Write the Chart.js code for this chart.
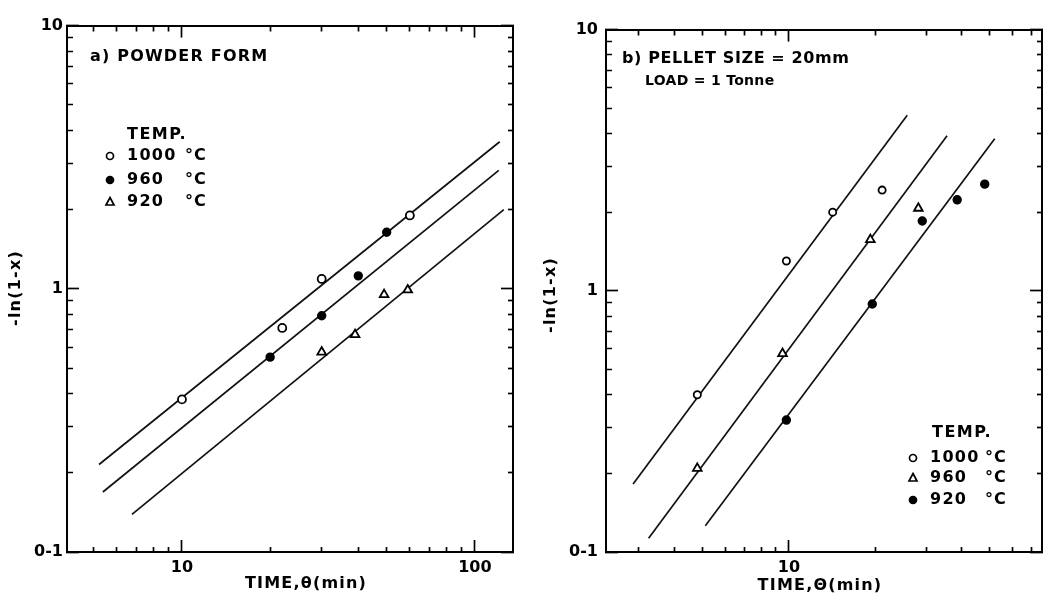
<!DOCTYPE html>
<html>
<head>
<meta charset="utf-8">
<title>-ln(1-x) vs time</title>
<script src="https://cdn.jsdelivr.net/npm/chart.js@4.4.0/dist/chart.umd.min.js"></script>
<style>
  body { margin: 0; background: #fff; }
  #wrap { position: relative; width: 1050px; height: 598px; overflow: hidden; }
  canvas { position: absolute; top: 0; }
  #left { left: 0; }
  #right { left: 525px; }
</style>
</head>
<body>
<div id="wrap">
  <canvas id="left" width="525" height="598"></canvas>
  <canvas id="right" width="525" height="598"></canvas>
</div>
<script>
var FONT = '"DejaVu Sans", sans-serif';

// a) powder form - measured points, time (min) vs -ln(1-x)
var timeA1000 = [10, 22, 30, 60];
var lnA1000   = [0.38, 0.71, 1.09, 1.90];
var timeA960  = [20, 30, 40, 50];
var lnA960    = [0.55, 0.79, 1.12, 1.64];
var timeA920  = [30, 39, 49, 59];
var lnA920    = [0.575, 0.67, 0.95, 0.99];
// fitted lines (end points)
var fitTimeA1000 = [5.21, 121.6];
var fitLnA1000   = [0.215, 3.62];
var fitTimeA960  = [5.37, 120.7];
var fitLnA960    = [0.169, 2.82];
var fitTimeA920  = [6.75, 125.6];
var fitLnA920    = [0.139, 2.0];

// b) pellet size 20mm, load 1 tonne
var timeB1000 = [4.8, 9.8, 14.2, 21.1];
var lnB1000   = [0.40, 1.30, 2.0, 2.43];
var timeB960  = [4.8, 9.5, 19.2, 28.2];
var lnB960    = [0.209, 0.575, 1.57, 2.07];
var timeB920  = [9.8, 19.5, 29.1, 38.5, 48];
var lnB920    = [0.32, 0.89, 1.85, 2.23, 2.56];
var fitTimeB1000 = [2.87, 25.8];
var fitLnB1000   = [0.182, 4.70];
var fitTimeB960  = [3.25, 35.5];
var fitLnB960    = [0.113, 3.92];
var fitTimeB920  = [5.12, 52.0];
var fitLnB920    = [0.126, 3.82];

// ticks
var ticksXA = [5, 6, 7, 8, 9, 10, 20, 30, 40, 50, 60, 70, 80, 90, 100];
var ticksXB = [3, 4, 5, 6, 7, 8, 9, 10, 20, 30, 40, 50, 60, 70];
var ticksY  = [0.1, 0.2, 0.3, 0.4, 0.5, 0.6, 0.7, 0.8, 0.9, 1, 2, 3, 4, 5, 6, 7, 8, 9, 10];
var labelsX = { '10': '10', '100': '100' };
var labelsY = { '0.1': '0-1', '1': '1', '10': '10' };

function pts(xs, ys) {
  return xs.map(function(x, i){ return {x: x, y: ys[i]}; });
}

function markSet(label, xs, ys, style, filled, r) {
  return {
    label: label,
    data: pts(xs, ys),
    pointStyle: style,
    pointRadius: r,
    pointBorderWidth: 1.8,
    borderColor: '#000',
    backgroundColor: filled ? '#000' : '#fff',
    showLine: false
  };
}

function fitSet(xs, ys) {
  return {
    data: pts(xs, ys),
    showLine: true,
    borderColor: '#111',
    borderWidth: 1.7,
    pointRadius: 0,
    fill: false
  };
}

function logAxis(pos, min, max, list, labels, size, pad) {
  var horiz = pos === 'top' || pos === 'bottom';
  var inner = pos === 'left' || pos === 'top';
  return {
    type: 'logarithmic',
    position: pos,
    min: min,
    max: max,
    afterBuildTicks: function(s) {
      s.ticks = list.map(function(v){
        var l = Math.log10(v);
        return {value: v, major: Math.abs(l - Math.round(l)) < 1e-9};
      });
    },
    afterFit: function(s) {
      if (horiz) s.height = size; else s.width = size;
    },
    border: { display: true, color: '#000', width: 2 },
    grid: {
      drawOnChartArea: false,
      drawTicks: true,
      tickLength: -12,
      tickColor: '#000',
      tickWidth: 1.7,
      tickBorderDash: function(c) {
        if (c.tick && c.tick.major) return [];
        return inner ? [0, 6, 6, 100] : [6, 100];
      }
    },
    ticks: {
      display: !!labels,
      autoSkip: false,
      maxRotation: 0,
      padding: pad || 0,
      color: '#000',
      font: { family: FONT, size: 16, weight: 'bold' },
      callback: function(v) { return labels ? (labels[String(v)] || '') : ''; }
    }
  };
}

var notes = {
  id: 'notes',
  afterDraw: function(chart, args, opts) {
    var ctx = chart.ctx;
    (opts.items || []).forEach(function(it){
      ctx.save();
      ctx.font = 'bold ' + (it.size || 16) + 'px ' + FONT;
      ctx.fillStyle = '#000';
      ctx.textAlign = it.align || 'left';
      ctx.textBaseline = 'middle';
      if ('letterSpacing' in ctx) ctx.letterSpacing = (it.sp || 0) + 'px';
      ctx.translate(it.x, it.y);
      if (it.rot) ctx.rotate(it.rot);
      ctx.fillText(it.text, 0, 0);
      ctx.restore();
    });
    (opts.keys || []).forEach(function(k){
      ctx.save();
      ctx.strokeStyle = '#000';
      ctx.lineWidth = 1.7;
      ctx.fillStyle = k.filled ? '#000' : '#fff';
      ctx.beginPath();
      if (k.style === 'triangle') {
        ctx.moveTo(k.x, k.y - 4.5);
        ctx.lineTo(k.x + 4, k.y + 3);
        ctx.lineTo(k.x - 4, k.y + 3);
        ctx.closePath();
      } else {
        ctx.arc(k.x, k.y, 3.5, 0, Math.PI * 2);
      }
      ctx.fill();
      ctx.stroke();
      ctx.restore();
    });
  }
};

function makeChart(id, datasets, xmin, xmax, xticks, yw, ypad, right, items, keys) {
  return new Chart(document.getElementById(id), {
    type: 'scatter',
    data: { datasets: datasets },
    plugins: [notes],
    options: {
      responsive: false,
      animation: false,
      devicePixelRatio: 1,
      layout: { padding: { top: 20, right: right, left: 0, bottom: 0 } },
      scales: {
        x: logAxis('bottom', xmin, xmax, xticks, labelsX, 46, 18),
        x2: logAxis('top', xmin, xmax, xticks, null, 0),
        y: logAxis('left', 0.1, 10, ticksY, labelsY, yw, ypad),
        y2: logAxis('right', 0.1, 10, ticksY, null, 0)
      },
      plugins: {
        legend: { display: false },
        tooltip: { enabled: false },
        notes: { items: items, keys: keys }
      }
    }
  });
}

makeChart('left', [
    markSet('1000 °C', timeA1000, lnA1000, 'circle', false, 4),
    markSet('960 °C', timeA960, lnA960, 'circle', true, 3.8),
    markSet('920 °C', timeA920, lnA920, 'triangle', false, 5),
    fitSet(fitTimeA1000, fitLnA1000),
    fitSet(fitTimeA960, fitLnA960),
    fitSet(fitTimeA920, fitLnA920)
  ], 4.05, 135, ticksXA, 67, 16, 12,
  [
    { text: 'a) POWDER FORM', x: 90, y: 57, sp: 1.2 },
    { text: 'TEMP.', x: 127, y: 135, sp: 1.5 },
    { text: '1000', x: 127, y: 156, sp: 1.3 },
    { text: '960', x: 127, y: 180, sp: 1.3 },
    { text: '920', x: 127, y: 202, sp: 1.3 },
    { text: '°C', x: 185, y: 156, sp: 1 },
    { text: '°C', x: 185, y: 180, sp: 1 },
    { text: '°C', x: 185, y: 202, sp: 1 },
    { text: 'TIME,θ(min)', x: 306, y: 584, align: 'center', sp: 1.2 },
    { text: '-ln(1-x)', x: 16, y: 288, align: 'center', sp: 1.2, rot: -Math.PI / 2 }
  ],
  [
    { x: 110, y: 156, style: 'circle', filled: false },
    { x: 110, y: 180, style: 'circle', filled: true },
    { x: 110, y: 202, style: 'triangle', filled: false }
  ]);

makeChart('right', [
    markSet('1000 °C', timeB1000, lnB1000, 'circle', false, 3.6),
    markSet('960 °C', timeB960, lnB960, 'triangle', false, 5),
    markSet('920 °C', timeB920, lnB920, 'circle', true, 3.8),
    fitSet(fitTimeB1000, fitLnB1000),
    fitSet(fitTimeB960, fitLnB960),
    fitSet(fitTimeB920, fitLnB920)
  ], 2.31, 76, ticksXB, 81, 20, 5,
  [
    { text: 'b) PELLET SIZE = 20mm', x: 97, y: 59, sp: 0.6 },
    { text: 'LOAD = 1 Tonne', x: 120, y: 81, size: 14, sp: 0.3 },
    { text: 'TEMP.', x: 407, y: 433, sp: 1.5 },
    { text: '1000', x: 405, y: 458, sp: 1.3 },
    { text: '960', x: 405, y: 478, sp: 1.3 },
    { text: '920', x: 405, y: 500, sp: 1.3 },
    { text: '°C', x: 460, y: 458, sp: 1 },
    { text: '°C', x: 460, y: 478, sp: 1 },
    { text: '°C', x: 460, y: 500, sp: 1 },
    { text: 'TIME,Θ(min)', x: 295, y: 586, align: 'center', sp: 1.2 },
    { text: '-ln(1-x)', x: 26, y: 295, align: 'center', sp: 1.2, rot: -Math.PI / 2 }
  ],
  [
    { x: 388, y: 458, style: 'circle', filled: false },
    { x: 388, y: 478, style: 'triangle', filled: false },
    { x: 388, y: 500, style: 'circle', filled: true }
  ]);
</script>
</body>
</html>
